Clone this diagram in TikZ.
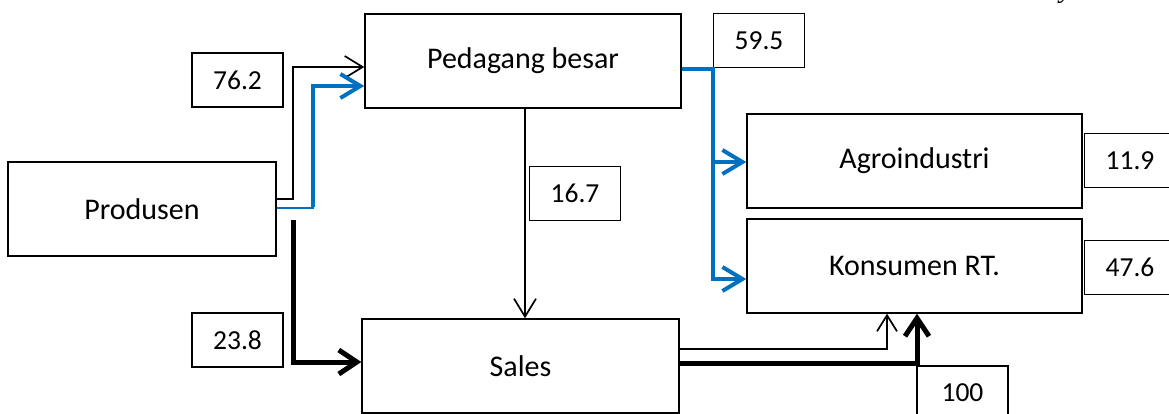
\documentclass[tikz,border=0pt]{standalone}
\usepackage{fontspec}
\setmainfont{Carlito}
\newfontfamily\seriffont{Liberation Serif}
\usetikzlibrary{arrows.meta}
\definecolor{officeblue}{RGB}{0,112,192}
\begin{document}
\begin{tikzpicture}[x=1pt,y=-1pt,
  bigbox/.style={draw,line width=1.4pt,inner sep=0pt,minimum height=94pt,font=\fontsize{30}{32}\selectfont},
  numbox/.style={draw,line width=1.4pt,inner sep=0pt,minimum width=91pt,minimum height=54pt,font=\fontsize{27.5}{30}\selectfont},
  thinarr/.style={line width=1.6pt,-{Straight Barb[length=18pt,width=22pt,line width=1.7pt]}},
  smallarr/.style={line width=1.6pt,-{Straight Barb[length=16pt,width=20pt,line width=1.7pt]}},
  thickarr/.style={line width=5pt,line join=miter,-{Straight Barb[length=18pt,width=24pt,line width=5pt]}},
  bluearr/.style={officeblue,line width=4pt,line join=miter,-{Straight Barb[length=20pt,width=24pt,line width=4pt]}},
  bluethin/.style={officeblue,line width=1.6pt}]
\useasboundingbox (0,0) rectangle (1169,414);
\fill[white] (0,0) rectangle (1169,414);
% fragment of text above
\node[anchor=base,inner sep=0pt,font=\seriffont\itshape\fontsize{28}{30}\selectfont] (frag) at (1066,-2) {y};
% main boxes
\node[bigbox,minimum width=316pt] (ped) at (523,61) {Pedagang besar};
\node[bigbox,minimum width=268pt] (prod) at (142,209) {Produsen};
\node[bigbox,minimum width=317pt] (sales) at (520.5,366) {Sales};
\node[bigbox,minimum width=335pt] (agro) at (914.5,161) {Agroindustri};
\node[bigbox,minimum width=335pt] (kons) at (914.5,266) {Konsumen RT.};
% number boxes
\node[numbox] (n762) at (237.5,80) {76.2};
\node[numbox] (n238) at (237.5,340) {23.8};
\node[numbox] (n167) at (575,193.5) {16.7};
\node[numbox] (n595) at (759,40.5) {59.5};
\node[numbox] (n119) at (1130,160.5) {11.9};
\node[numbox] (n476) at (1130,267.5) {47.6};
\node[numbox] (n100) at (962.5,393) {100};
% coordinates
\coordinate (bk) at (293,199);
\coordinate (bl) at (313,208);
\coordinate (t0) at (293,220);
\coordinate (bj) at (713,69);
% Produsen -> Pedagang besar (black thin)
\draw[thinarr] (prod.east |- bk) -- (bk) |- (ped.west |- 0,67);
% Produsen -> Pedagang besar (blue)
\draw[bluethin] (prod.east |- bl) -- ([xshift=1pt]bl);
\draw[bluearr] ([yshift=1pt]bl) |- (ped.west |- 0,86);
% Produsen -> Sales (thick black)
\draw[thickarr] (t0) |- (sales.west |- 0,362);
% Pedagang besar -> Sales
\draw[thinarr] (ped.south -| 525,0) -- (sales.north -| 525,0);
% Pedagang besar -> Agroindustri / Konsumen (blue)
\draw[bluearr] (ped.east |- bj) -- (bj) |- (agro.west |- 0,162);
\draw[bluearr] (bj) |- (kons.west |- 0,279);
% Sales -> Konsumen
\draw[smallarr] (sales.east |- 0,349) -| (kons.south -| 887,0);
\draw[thickarr] (sales.east |- 0,363) -| (kons.south -| 917,0);
\end{tikzpicture}
\end{document}
